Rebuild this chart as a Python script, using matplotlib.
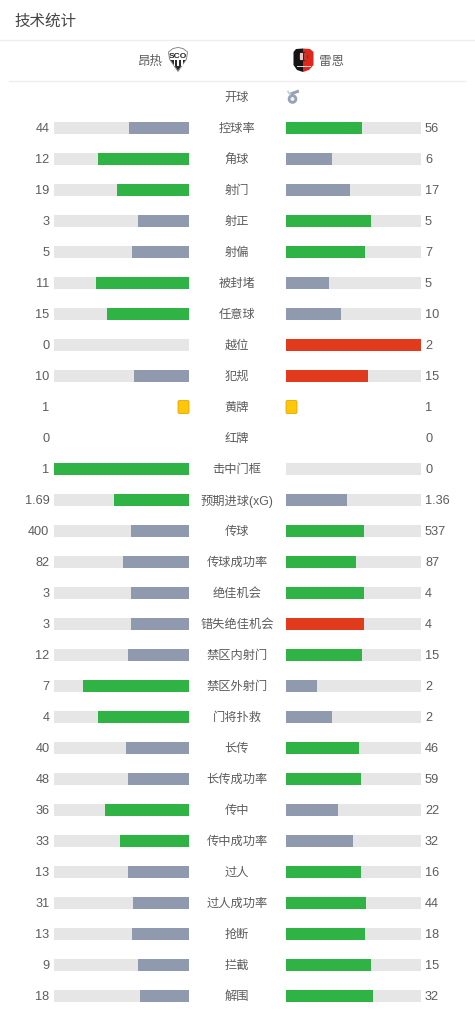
import matplotlib
matplotlib.use('Agg')
import matplotlib.pyplot as plt
from matplotlib.patches import Polygon, FancyBboxPatch, Circle, Rectangle

plt.rcParams['font.family'] = ['Liberation Sans', 'Noto Sans CJK SC', 'DejaVu Sans']

title = '技术统计'
home_team = '昂热'
away_team = '雷恩'
kickoff_label = '开球'

stats = ['控球率', '角球', '射门', '射正', '射偏', '被封堵', '任意球', '越位', '犯规', '黄牌',
         '红牌', '击中门框', '预期进球(xG)', '传球', '传球成功率', '绝佳机会', '错失绝佳机会',
         '禁区内射门', '禁区外射门', '门将扑救', '长传', '长传成功率', '传中', '传中成功率',
         '过人', '过人成功率', '抢断', '拦截', '解围']
home = [44, 12, 19, 3, 5, 11, 15, 0, 10, 1, 0, 1, 1.69, 400, 82, 3, 3, 12, 7, 4, 40, 48, 36, 33,
        13, 31, 13, 9, 18]
away = [56, 6, 17, 5, 7, 5, 10, 2, 15, 1, 0, 0, 1.36, 537, 87, 4, 4, 15, 2, 2, 46, 59, 22, 32,
        16, 44, 18, 15, 32]
# the higher side of these is drawn red instead of green
bad_stats = ['越位', '犯规', '错失绝佳机会']

GREEN = '#2fb344'
GREY = '#8f9aaf'
RED = '#e23a1c'
TRACK = '#e6e6e6'
TEXT = '#5c5c5c'

LEFT_X = 54
RIGHT_X = 286
BAR_W = 135
BAR_H = 12
FIRST_Y = 129
STEP = 31


def bar_color(value, other, name):
    if value > other:
        return RED if name in bad_stats else GREEN
    return GREY


def yellow_card(ax, x, y):
    ax.add_patch(FancyBboxPatch((x + 1, y - 5.5), 9, 11, boxstyle='round,pad=1,rounding_size=1.5',
                                fc='#ffc60a', ec='#e0a800', lw=0.6, zorder=3))


def angers_logo(ax):
    ax.add_patch(Polygon([(168.5, 53), (173, 49.5), (178, 48.5), (183, 49.5), (187.5, 53), (186.5, 60), (178, 72.5), (169.5, 60)],
                         fc='white', ec='#777777', lw=0.6, zorder=3))
    ax.add_patch(Polygon([(170.5, 61), (185.5, 61), (178, 71.5)], fc='#2a2a2a', ec='none', zorder=3))
    for x in [173.5, 177.4, 181.3]:
        ax.add_patch(Rectangle((x, 61), 1.3, 6, fc='white', ec='none', zorder=4))
    ax.text(178, 56.5, 'SCO', fontsize=6, fontweight='bold', color='#222222',
            ha='center', va='center', zorder=5)


def rennes_logo(ax):
    ax.add_patch(Polygon([(303, 49.5), (296, 50), (293.5, 53), (293.5, 66), (297, 71), (303, 73)],
                         fc='#141414', ec='none', zorder=3))
    ax.add_patch(Polygon([(303, 49.5), (310, 50), (313.5, 53), (313.5, 66), (309, 71), (303, 73)],
                         fc='#e1261c', ec='none', zorder=3))
    ax.add_patch(Circle((303, 57.5), 4.6, fc='#2a2a2a', ec='none', zorder=4))
    ax.add_patch(Rectangle((299.5, 54), 3, 7, fc='#e8c8c8', ec='none', zorder=5))
    ax.add_patch(Rectangle((303.5, 54), 3, 7, fc='#c0392b', ec='none', zorder=5))
    ax.plot([296.5, 309.5], [66.5, 66.5], color='#dddddd', lw=0.7, zorder=5)


def whistle(ax):
    ax.add_patch(Circle((292.5, 100), 3.4, fc='#eef0f3', ec='#98a2b5', lw=2, zorder=3))
    ax.plot([292, 297.5], [94.5, 92.5], color='#98a2b5', lw=2.2, zorder=3)
    ax.plot([288, 290], [92.5, 95.5], color='#c5cbd6', lw=1.2, zorder=3)


fig = plt.figure(figsize=(4.75, 10.12), dpi=100)
ax = fig.add_axes([0, 0, 1, 1])
ax.set_xlim(0, 475)
ax.set_ylim(1012, 0)
ax.axis('off')

ax.text(14.5, 21, title, fontsize=11.2, color='#444444', ha='left', va='center')
ax.plot([0, 475], [40.5, 40.5], color='#eeeeee', lw=1)
ax.plot([9, 465], [81.5, 81.5], color='#eeeeee', lw=1)

ax.text(162, 62, home_team, fontsize=9, color=TEXT, ha='right', va='center')
ax.text(319, 62, away_team, fontsize=9, color=TEXT, ha='left', va='center')
angers_logo(ax)
rennes_logo(ax)

ax.text(237, 98, kickoff_label, fontsize=8.8, color=TEXT, ha='center', va='center')
whistle(ax)

for i, name in enumerate(stats):
    y = FIRST_Y + i * STEP
    h, a = home[i], away[i]
    ax.text(237, y, name, fontsize=8.8, color=TEXT, ha='center', va='center')
    ax.text(49.5, y, str(h), fontsize=9.2, color=TEXT, ha='right', va='center')
    ax.text(425, y, str(a), fontsize=9.2, color=TEXT, ha='left', va='center')

    if name == '红牌':
        continue
    if name == '黄牌':
        yellow_card(ax, LEFT_X + BAR_W - 11, y)
        yellow_card(ax, RIGHT_X, y)
        continue

    ax.barh(y, BAR_W, left=LEFT_X, height=BAR_H, color=TRACK, zorder=1)
    ax.barh(y, BAR_W, left=RIGHT_X, height=BAR_H, color=TRACK, zorder=1)
    total = h + a
    # the page rounds the bar widths up a little
    h_w = BAR_W * h / total + 0.6 if h else 0
    a_w = BAR_W * a / total + 0.6 if a else 0
    ax.barh(y, min(h_w, BAR_W), left=LEFT_X + BAR_W - min(h_w, BAR_W), height=BAR_H,
            color=bar_color(h, a, name), zorder=2)
    ax.barh(y, min(a_w, BAR_W), left=RIGHT_X, height=BAR_H, color=bar_color(a, h, name), zorder=2)

fig.savefig('out.png', dpi=100)
